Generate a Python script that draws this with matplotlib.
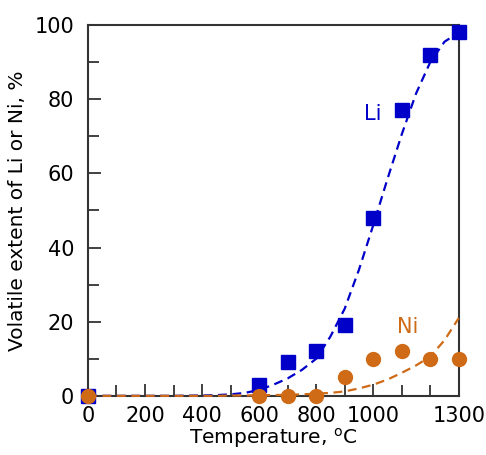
import matplotlib
matplotlib.use("Agg")
import matplotlib.pyplot as plt
from matplotlib.ticker import MultipleLocator, FixedLocator

# measured points
temp = [0, 600, 700, 800, 900, 1000, 1100, 1200, 1300]
li_vol = [0, 3, 9, 12, 19, 48, 77, 92, 98]
ni_vol = [0, 0, 0, 0, 5, 10, 12, 10, 10]

# dashed trend lines
fit_t = [0, 100, 200, 300, 400, 450, 500, 550, 600, 650, 700, 750, 800, 850, 900,
         950, 1000, 1050, 1100, 1150, 1200, 1250, 1300]
li_fit = [0, 0, 0, 0, 0.1, 0.2, 0.4, 0.8, 1.6, 3.0, 4.7, 7.0, 10.0, 16.0, 23.5,
          34.0, 46.0, 58.5, 70.5, 81.5, 90.0, 95.5, 98.0]
ni_fit = [0, 0, 0, 0, 0, 0, 0.1, 0.1, 0.2, 0.2, 0.3, 0.4, 0.6, 0.8, 1.2,
          2.0, 3.0, 4.4, 6.2, 8.2, 10.6, 15.0, 21.0]

xticks = [0, 200, 400, 600, 800, 1000, 1300]

blue = '#0000c8'
orange = '#cf6a16'

fig = plt.figure(figsize=(4.86, 4.55), dpi=100)
ax = fig.add_axes([0.181, 0.130, 0.763, 0.815])

ax.plot(fit_t, li_fit, '--', color=blue, lw=1.6, dashes=(4, 2.5), clip_on=False, zorder=3)
ax.plot(fit_t, ni_fit, '--', color=orange, lw=1.6, dashes=(4, 2.5), clip_on=False, zorder=3)
ax.plot(temp, li_vol, 's', color=blue, ms=9.5, clip_on=False, zorder=4)
ax.plot(temp, ni_vol, 'o', color=orange, ms=10, clip_on=False, zorder=5)

ax.text(1000, 76, 'Li', color=blue, fontsize=15, ha='center', va='center')
ax.text(1120, 18.5, 'Ni', color=orange, fontsize=15, ha='center', va='center')

ax.set_xlim(0, 1300)
ax.set_ylim(0, 100)
ax.xaxis.set_major_locator(FixedLocator(xticks))
ax.xaxis.set_minor_locator(MultipleLocator(100))
ax.yaxis.set_major_locator(MultipleLocator(20))
ax.yaxis.set_minor_locator(MultipleLocator(10))

for s in ax.spines.values():
    s.set_color('#333333')
    s.set_linewidth(1.5)

ax.tick_params(which='both', direction='in', color='#333333', width=1.3,
               labelsize=15, top=False, right=False)
ax.tick_params(which='major', length=9)
ax.tick_params(which='minor', length=8)
ax.tick_params(axis='y', pad=10)
ax.tick_params(axis='x', pad=7)

ax.set_xlabel(r'Temperature, $^{\mathrm{o}}$C', fontsize=14.5, labelpad=0)
ax.set_ylabel('Volatile extent of Li or Ni, %', fontsize=14.5, labelpad=5)

fig.savefig('out.png', dpi=100)
